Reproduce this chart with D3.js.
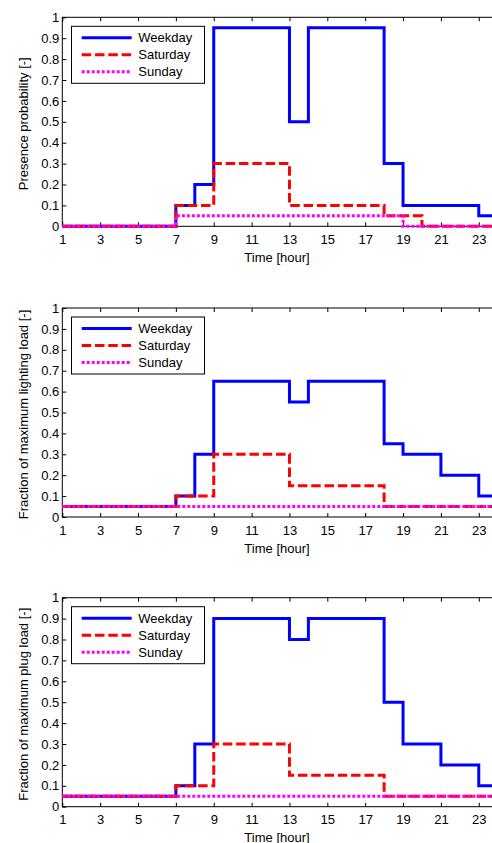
<!DOCTYPE html>
<html>
<head>
<meta charset="utf-8">
<script src="https://cdn.jsdelivr.net/npm/d3@7"></script>
<style>
  html, body { margin: 0; padding: 0; background: #fff; }
  svg { display: block; }
  text { font-family: "Liberation Sans", Arial, sans-serif; font-size: 13px; fill: #000; }
</style>
</head>
<body>
<svg id="chart" width="492" height="843"></svg>
<script>
// Hour of day at which each step starts (value holds until the next hour)
const hours = [1, 2, 3, 4, 5, 6, 7, 8, 9, 10, 11, 12, 13, 14, 15, 16, 17, 18, 19, 20, 21, 22, 23, 24];
const xTicks = [1, 3, 5, 7, 9, 11, 13, 15, 17, 19, 21, 23];
const yTicks = [0, 0.1, 0.2, 0.3, 0.4, 0.5, 0.6, 0.7, 0.8, 0.9, 1];
const seriesNames = ["Weekday", "Saturday", "Sunday"];

// Occupant presence probability
const presenceWeekday  = [0, 0, 0, 0, 0, 0, 0.1, 0.2, 0.95, 0.95, 0.95, 0.95, 0.5, 0.95, 0.95, 0.95, 0.95, 0.3, 0.1, 0.1, 0.1, 0.1, 0.05, 0.05];
const presenceSaturday = [0, 0, 0, 0, 0, 0, 0.1, 0.1, 0.3, 0.3, 0.3, 0.3, 0.1, 0.1, 0.1, 0.1, 0.1, 0.05, 0.05, 0, 0, 0, 0, 0];
const presenceSunday   = [0, 0, 0, 0, 0, 0, 0.05, 0.05, 0.05, 0.05, 0.05, 0.05, 0.05, 0.05, 0.05, 0.05, 0.05, 0.05, 0, 0, 0, 0, 0, 0];

// Fraction of maximum lighting load
const lightingWeekday  = [0.05, 0.05, 0.05, 0.05, 0.05, 0.05, 0.1, 0.3, 0.65, 0.65, 0.65, 0.65, 0.55, 0.65, 0.65, 0.65, 0.65, 0.35, 0.3, 0.3, 0.2, 0.2, 0.1, 0.1];
const lightingSaturday = [0.05, 0.05, 0.05, 0.05, 0.05, 0.05, 0.1, 0.1, 0.3, 0.3, 0.3, 0.3, 0.15, 0.15, 0.15, 0.15, 0.15, 0.05, 0.05, 0.05, 0.05, 0.05, 0.05, 0.05];
const lightingSunday   = [0.05, 0.05, 0.05, 0.05, 0.05, 0.05, 0.05, 0.05, 0.05, 0.05, 0.05, 0.05, 0.05, 0.05, 0.05, 0.05, 0.05, 0.05, 0.05, 0.05, 0.05, 0.05, 0.05, 0.05];

// Fraction of maximum plug load
const plugWeekday  = [0.05, 0.05, 0.05, 0.05, 0.05, 0.05, 0.1, 0.3, 0.9, 0.9, 0.9, 0.9, 0.8, 0.9, 0.9, 0.9, 0.9, 0.5, 0.3, 0.3, 0.2, 0.2, 0.1, 0.1];
const plugSaturday = [0.05, 0.05, 0.05, 0.05, 0.05, 0.05, 0.1, 0.1, 0.3, 0.3, 0.3, 0.3, 0.15, 0.15, 0.15, 0.15, 0.15, 0.05, 0.05, 0.05, 0.05, 0.05, 0.05, 0.05];
const plugSunday   = [0.05, 0.05, 0.05, 0.05, 0.05, 0.05, 0.05, 0.05, 0.05, 0.05, 0.05, 0.05, 0.05, 0.05, 0.05, 0.05, 0.05, 0.05, 0.05, 0.05, 0.05, 0.05, 0.05, 0.05];

const panelLabels = ["Presence probability [-]", "Fraction of maximum lighting load [-]", "Fraction of maximum plug load [-]"];
const xLabel = "Time [hour]";

const panels = [
  { label: panelLabels[0], values: [presenceWeekday, presenceSaturday, presenceSunday], top: 17.3 },
  { label: panelLabels[1], values: [lightingWeekday, lightingSaturday, lightingSunday], top: 308 },
  { label: panelLabels[2], values: [plugWeekday, plugSaturday, plugSunday], top: 597.7 }
];

const styles = [
  { color: "#0000ff", dash: null },
  { color: "#ff0000", dash: "9.5,3.8" },
  { color: "#ff00ff", dash: "3,2" }
];

const left = 62.3, right = 497.7, plotH = 209;
const svg = d3.select("#chart");
const x = d3.scaleLinear().domain([1, 24]).range([left, right]);

panels.forEach(p => {
  const y = d3.scaleLinear().domain([0, 1]).range([p.top + plotH, p.top]);
  const g = svg.append("g");

  // plot frame
  g.append("rect")
    .attr("x", left).attr("y", p.top)
    .attr("width", right - left).attr("height", plotH)
    .attr("fill", "none").attr("stroke", "#000").attr("stroke-width", 1);

  const bottomAxis = d3.axisBottom(x).tickValues(xTicks).tickSize(-4).tickSizeOuter(0).tickPadding(8.5);
  const topAxis = d3.axisTop(x).tickValues(xTicks).tickSize(-4).tickSizeOuter(0).tickFormat("");
  const leftAxis = d3.axisLeft(y).tickValues(yTicks).tickSize(-4).tickSizeOuter(0).tickPadding(3)
    .tickFormat(d3.format("~g"));

  [
    g.append("g").attr("transform", `translate(0,${p.top + plotH})`).call(bottomAxis),
    g.append("g").attr("transform", `translate(0,${p.top})`).call(topAxis),
    g.append("g").attr("transform", `translate(${left},0)`).call(leftAxis)
  ].forEach(ax => {
    ax.select(".domain").remove();
    ax.selectAll("line").attr("stroke", "#000");
    ax.selectAll("text").attr("font-size", 13).attr("font-family", "'Liberation Sans', Arial, sans-serif").attr("fill", "#000");
  });

  // axis titles
  g.append("text")
    .attr("x", (left + right) / 2 - 3).attr("y", p.top + plotH + 31)
    .attr("text-anchor", "middle").attr("dominant-baseline", "central")
    .text(xLabel);
  g.append("text")
    .attr("transform", `translate(23.3,${p.top + plotH / 2 + 2}) rotate(-90)`)
    .attr("text-anchor", "middle").attr("dominant-baseline", "central")
    .text(p.label);

  // step series
  const line = d3.line()
    .x((d, i) => x(hours[i]))
    .y(d => y(d))
    .curve(d3.curveStepAfter);

  p.values.forEach((vals, k) => {
    g.append("path")
      .datum(vals)
      .attr("d", line)
      .attr("fill", "none")
      .attr("stroke", styles[k].color)
      .attr("stroke-width", 3)
      .attr("stroke-dasharray", styles[k].dash)
      .attr("stroke-linejoin", "miter");
  });

  // legend
  const lg = g.append("g");
  lg.append("rect")
    .attr("x", 71.5).attr("y", p.top + 9)
    .attr("width", 133).attr("height", 57)
    .attr("fill", "#fff").attr("stroke", "#000").attr("stroke-width", 1);
  seriesNames.forEach((name, k) => {
    const ry = p.top + 20.5 + k * 17;
    lg.append("line")
      .attr("x1", 81.7).attr("x2", 131.7).attr("y1", ry).attr("y2", ry)
      .attr("stroke", styles[k].color).attr("stroke-width", 3)
      .attr("stroke-dasharray", styles[k].dash);
    lg.append("text")
      .attr("x", 138.3).attr("y", ry)
      .attr("dominant-baseline", "central")
      .text(name);
  });
});
</script>
</body>
</html>
